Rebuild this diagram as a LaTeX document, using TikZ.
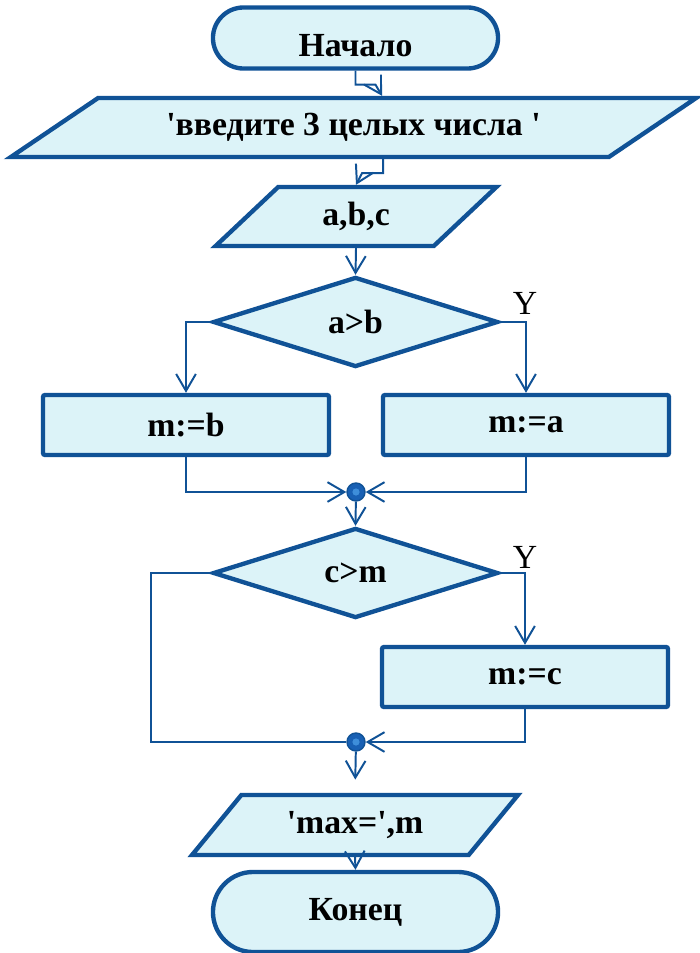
\documentclass[tikz,border=0pt]{standalone}
\usepackage{fontspec}
\setmainfont{Liberation Serif}
\usetikzlibrary{shapes.geometric,shapes.misc,arrows.meta,calc}

\definecolor{frameblue}{RGB}{16,82,150}
\definecolor{boxfill}{RGB}{220,243,248}
\definecolor{dotblue}{RGB}{24,96,180}
\definecolor{dotlight}{RGB}{62,142,218}

\tikzset{
  base/.style={draw=frameblue, fill=boxfill, line width=3.1pt, inner sep=0pt,
    font=\fontsize{24}{28}\selectfont\bfseries},
  term/.style={base, rounded rectangle, minimum width=7.125cm},
  inout/.style={base, trapezium, trapezium stretches=true},
  proc/.style={base, rectangle, rounded corners=1.5pt, minimum width=7.15cm, minimum height=1.5cm},
  cond/.style={base, diamond, minimum width=7.125cm, minimum height=2.25cm},
  junc/.style={circle, fill=dotblue, draw=frameblue, line width=1pt, minimum size=0.45cm, inner sep=0pt,
    path picture={\fill[dotlight] (path picture bounding box.center) circle (0.09cm);}},
  wire/.style={draw=frameblue, line width=1.4pt},
  conn/.style={wire, -{Straight Barb[length=12pt,width=14pt]}},
  yes/.style={font=\fontsize{24}{28}\selectfont}
}

\begin{document}
\begin{tikzpicture}[x=0.025cm, y=-0.025cm]
    \useasboundingbox (0,0) rectangle (699,953);

    % blocks
    \node[term, minimum height=1.525cm, text height=26pt] (start) at (355.5,38) {Начало};
    \node[inout, trapezium left angle=23.8, trapezium right angle=156.2, minimum width=17.175cm, minimum height=1.475cm] (in1) at (353.5,127.5) {\textquotesingle введите 3 целых числа \textquotesingle};
    \node[inout, trapezium left angle=46.5, trapezium right angle=133.5, minimum width=7.05cm, minimum height=1.475cm] (in2) at (356,216.5) {a,b,c};
    \node[cond] (d1) at (355.5,322) {a>b};
    \node[proc] (mb) at (186,425) {m:=b};
    \node[proc] (ma) at (526,425) {m:=a};
    \node[junc] (j1) at (356,492) {};
    \node[cond] (d2) at (355.5,573) {c>m};
    \node[proc] (mc) at (525,677) {m:=c};
    \node[junc] (j2) at (356,742) {};
    \node[inout, trapezium left angle=42.7, trapezium right angle=137.3, minimum width=8.15cm, minimum height=1.5cm] (out) at (355,825) {\textquotesingle max=\textquotesingle,m};
    \node[term, minimum height=2cm] (stop) at (355.5,912) {Конец};

    \node[yes] (y1) at (525,303) {Y};
    \node[yes] (y2) at (525,557) {Y};

    % connectors
    \draw[conn] (start.south) -- ++(0,14) -- ++(20,0) -- ($(in1.north)+(28.5,0)$);
    \draw[conn] ($(in1.south)+(29.5,0)$) -- ++(0,14) -- ++(-21,0) -- (in2.north);
    \draw[conn] (in2.south) -- (d1.north);
    \draw[conn] (d1.east) -| (ma.north);
    \draw[conn] (d1.west) -| (mb.north);
    \draw[conn] (mb.south) |- (j1);
    \draw[conn] (ma.south) |- (j1);
    \draw[conn] (j1) -- (d2.north);
    \draw[conn] (d2.east) -| (mc.north);
    \draw[wire] (d2.west) -- ++(-60,0) |- (j2);
    \draw[conn] (mc.south) |- (j2);
    \draw[conn, shorten >=0.33cm] (j2) -- (out.north);
    \draw[conn] (out.south) -- (stop.north);

\end{tikzpicture}
\end{document}
